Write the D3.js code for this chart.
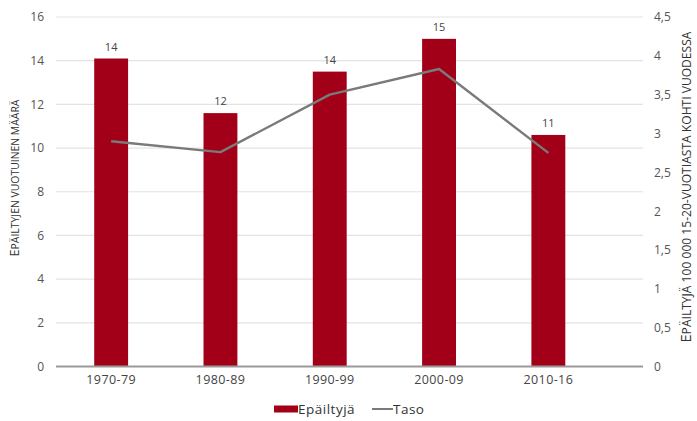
<!DOCTYPE html>
<html>
<head>
<meta charset="utf-8">
<script src="https://cdn.jsdelivr.net/npm/d3@7"></script>
<style>
  html, body { margin: 0; padding: 0; background: #fff; }
  svg { display: block; font-family: "Open Sans", sans-serif; }
</style>
</head>
<body>
<svg id="chart" width="697" height="421"></svg>
<script>
// Decades and series
const periods = ["1970-79", "1980-89", "1990-99", "2000-09", "2010-16"];
const suspects = [14.1, 11.6, 13.5, 15.0, 10.6];      // average suspects per year
const rate = [2.90, 2.76, 3.50, 3.83, 2.75];           // per 100 000 aged 15-20 per year
const leftTicks = [0, 2, 4, 6, 8, 10, 12, 14, 16];
const rightTicks = [0, 0.5, 1, 1.5, 2, 2.5, 3, 3.5, 4, 4.5];
const leftTitle = "Epäiltyjen vuotuinen määrä";
const rightTitle = "Epäiltyjä 100 000 15-20-vuotiasta kohti vuodessa";
const legendLabels = ["Epäiltyjä", "Taso"];

const svg = d3.select("#chart");
const plot = { left: 56, right: 643, top: 17, bottom: 366.5 };
const barColor = "#a20019";
const lineColor = "#7a7a7a";

const x = d3.scaleBand().domain(periods).range([56.5, 603]).paddingInner(0.69).paddingOuter(0.345);
const yL = d3.scaleLinear().domain([0, 16]).range([plot.bottom, plot.top]);
const yR = d3.scaleLinear().domain([0, 4.5]).range([plot.bottom, plot.top]);
const fmtR = d3.format(".1f");
const commaNum = v => (Number.isInteger(v) ? String(v) : fmtR(v).replace(".", ","));

// Gridlines
svg.append("g").selectAll("line").data(leftTicks.filter(t => t > 0)).join("line")
  .attr("x1", plot.left).attr("x2", plot.right)
  .attr("y1", d => yL(d)).attr("y2", d => yL(d))
  .attr("stroke", "#e3e3e3").attr("stroke-width", 1.2);

// Left axis labels
const leftAxis = svg.append("g").attr("transform", `translate(44,0)`)
  .call(d3.axisLeft(yL).tickValues(leftTicks).tickSize(0).tickPadding(0));
leftAxis.select(".domain").remove();
leftAxis.selectAll("text").attr("fill", "#555").style("font-size", "12px")
  .style("font-family", "'Open Sans', sans-serif");

// Right axis labels
const rightAxis = svg.append("g").attr("transform", `translate(654,0)`)
  .call(d3.axisRight(yR).tickValues(rightTicks).tickFormat(commaNum).tickSize(0).tickPadding(0));
rightAxis.select(".domain").remove();
rightAxis.selectAll("text").attr("fill", "#555").style("font-size", "12px")
  .style("font-family", "'Open Sans', sans-serif");

// Bars
svg.append("g").selectAll("rect").data(periods).join("rect")
  .attr("x", d => x(d)).attr("width", x.bandwidth())
  .attr("y", (d, i) => yL(suspects[i]))
  .attr("height", (d, i) => yL(0) - yL(suspects[i]))
  .attr("fill", barColor);

// Bar value labels
svg.append("g").selectAll("text").data(periods).join("text")
  .attr("x", d => x(d) + x.bandwidth() / 2)
  .attr("y", (d, i) => yL(suspects[i]) - 8)
  .attr("text-anchor", "middle")
  .attr("fill", "#444").style("font-size", "11px")
  .text((d, i) => d3.format(".0f")(suspects[i]));

// Baseline
svg.append("line").attr("x1", plot.left).attr("x2", plot.right)
  .attr("y1", yL(0)).attr("y2", yL(0))
  .attr("stroke", "#9a9a9a").attr("stroke-width", 1.8);

// Rate line on the right axis
const line = d3.line().x((d, i) => x(periods[i]) + x.bandwidth() / 2).y(d => yR(d));
svg.append("path").datum(rate).attr("d", line)
  .attr("fill", "none").attr("stroke", lineColor).attr("stroke-width", 2.4)
  .attr("stroke-linejoin", "round");

// Category labels
const xAxis = svg.append("g").attr("transform", `translate(0,${plot.bottom + 9})`)
  .call(d3.axisBottom(x).tickSize(0).tickPadding(0));
xAxis.select(".domain").remove();
xAxis.selectAll("text").attr("fill", "#444").style("font-size", "12.5px")
  .style("letter-spacing", "0.4px")
  .style("font-family", "'Open Sans', sans-serif");

// Axis titles in caps, with a slightly larger initial; sized to the given length
function title(cx, cy, len, txt) {
  const t = svg.append("text")
    .attr("transform", `translate(${cx},${cy}) rotate(-90)`)
    .attr("text-anchor", "middle").attr("fill", "#333");
  const first = t.append("tspan").text(txt[0].toUpperCase());
  const rest = t.append("tspan").text(txt.slice(1).toUpperCase());
  const base = 10;
  first.style("font-size", base * 1.2 + "px");
  rest.style("font-size", base + "px");
  const w = t.node().getComputedTextLength();
  const s = base * len / w;
  first.style("font-size", s * 1.2 + "px");
  rest.style("font-size", s + "px");
}
title(19, 178, 157, leftTitle);
title(691, 187, 311, rightTitle);

// Legend
const lg = svg.append("g").attr("transform", "translate(274,409)");
lg.append("rect").attr("x", 0).attr("y", -3.5).attr("width", 24).attr("height", 7).attr("fill", barColor);
lg.append("text").attr("x", 24).attr("y", 5).attr("fill", "#333").style("font-size", "13.5px")
  .style("letter-spacing", "0.5px").text(legendLabels[0]);
lg.append("line").attr("x1", 98).attr("x2", 119).attr("y1", 0).attr("y2", 0)
  .attr("stroke", lineColor).attr("stroke-width", 2);
lg.append("text").attr("x", 119).attr("y", 5).attr("fill", "#333").style("font-size", "13.5px")
  .style("letter-spacing", "0.5px").text(legendLabels[1]);
</script>
</body>
</html>
